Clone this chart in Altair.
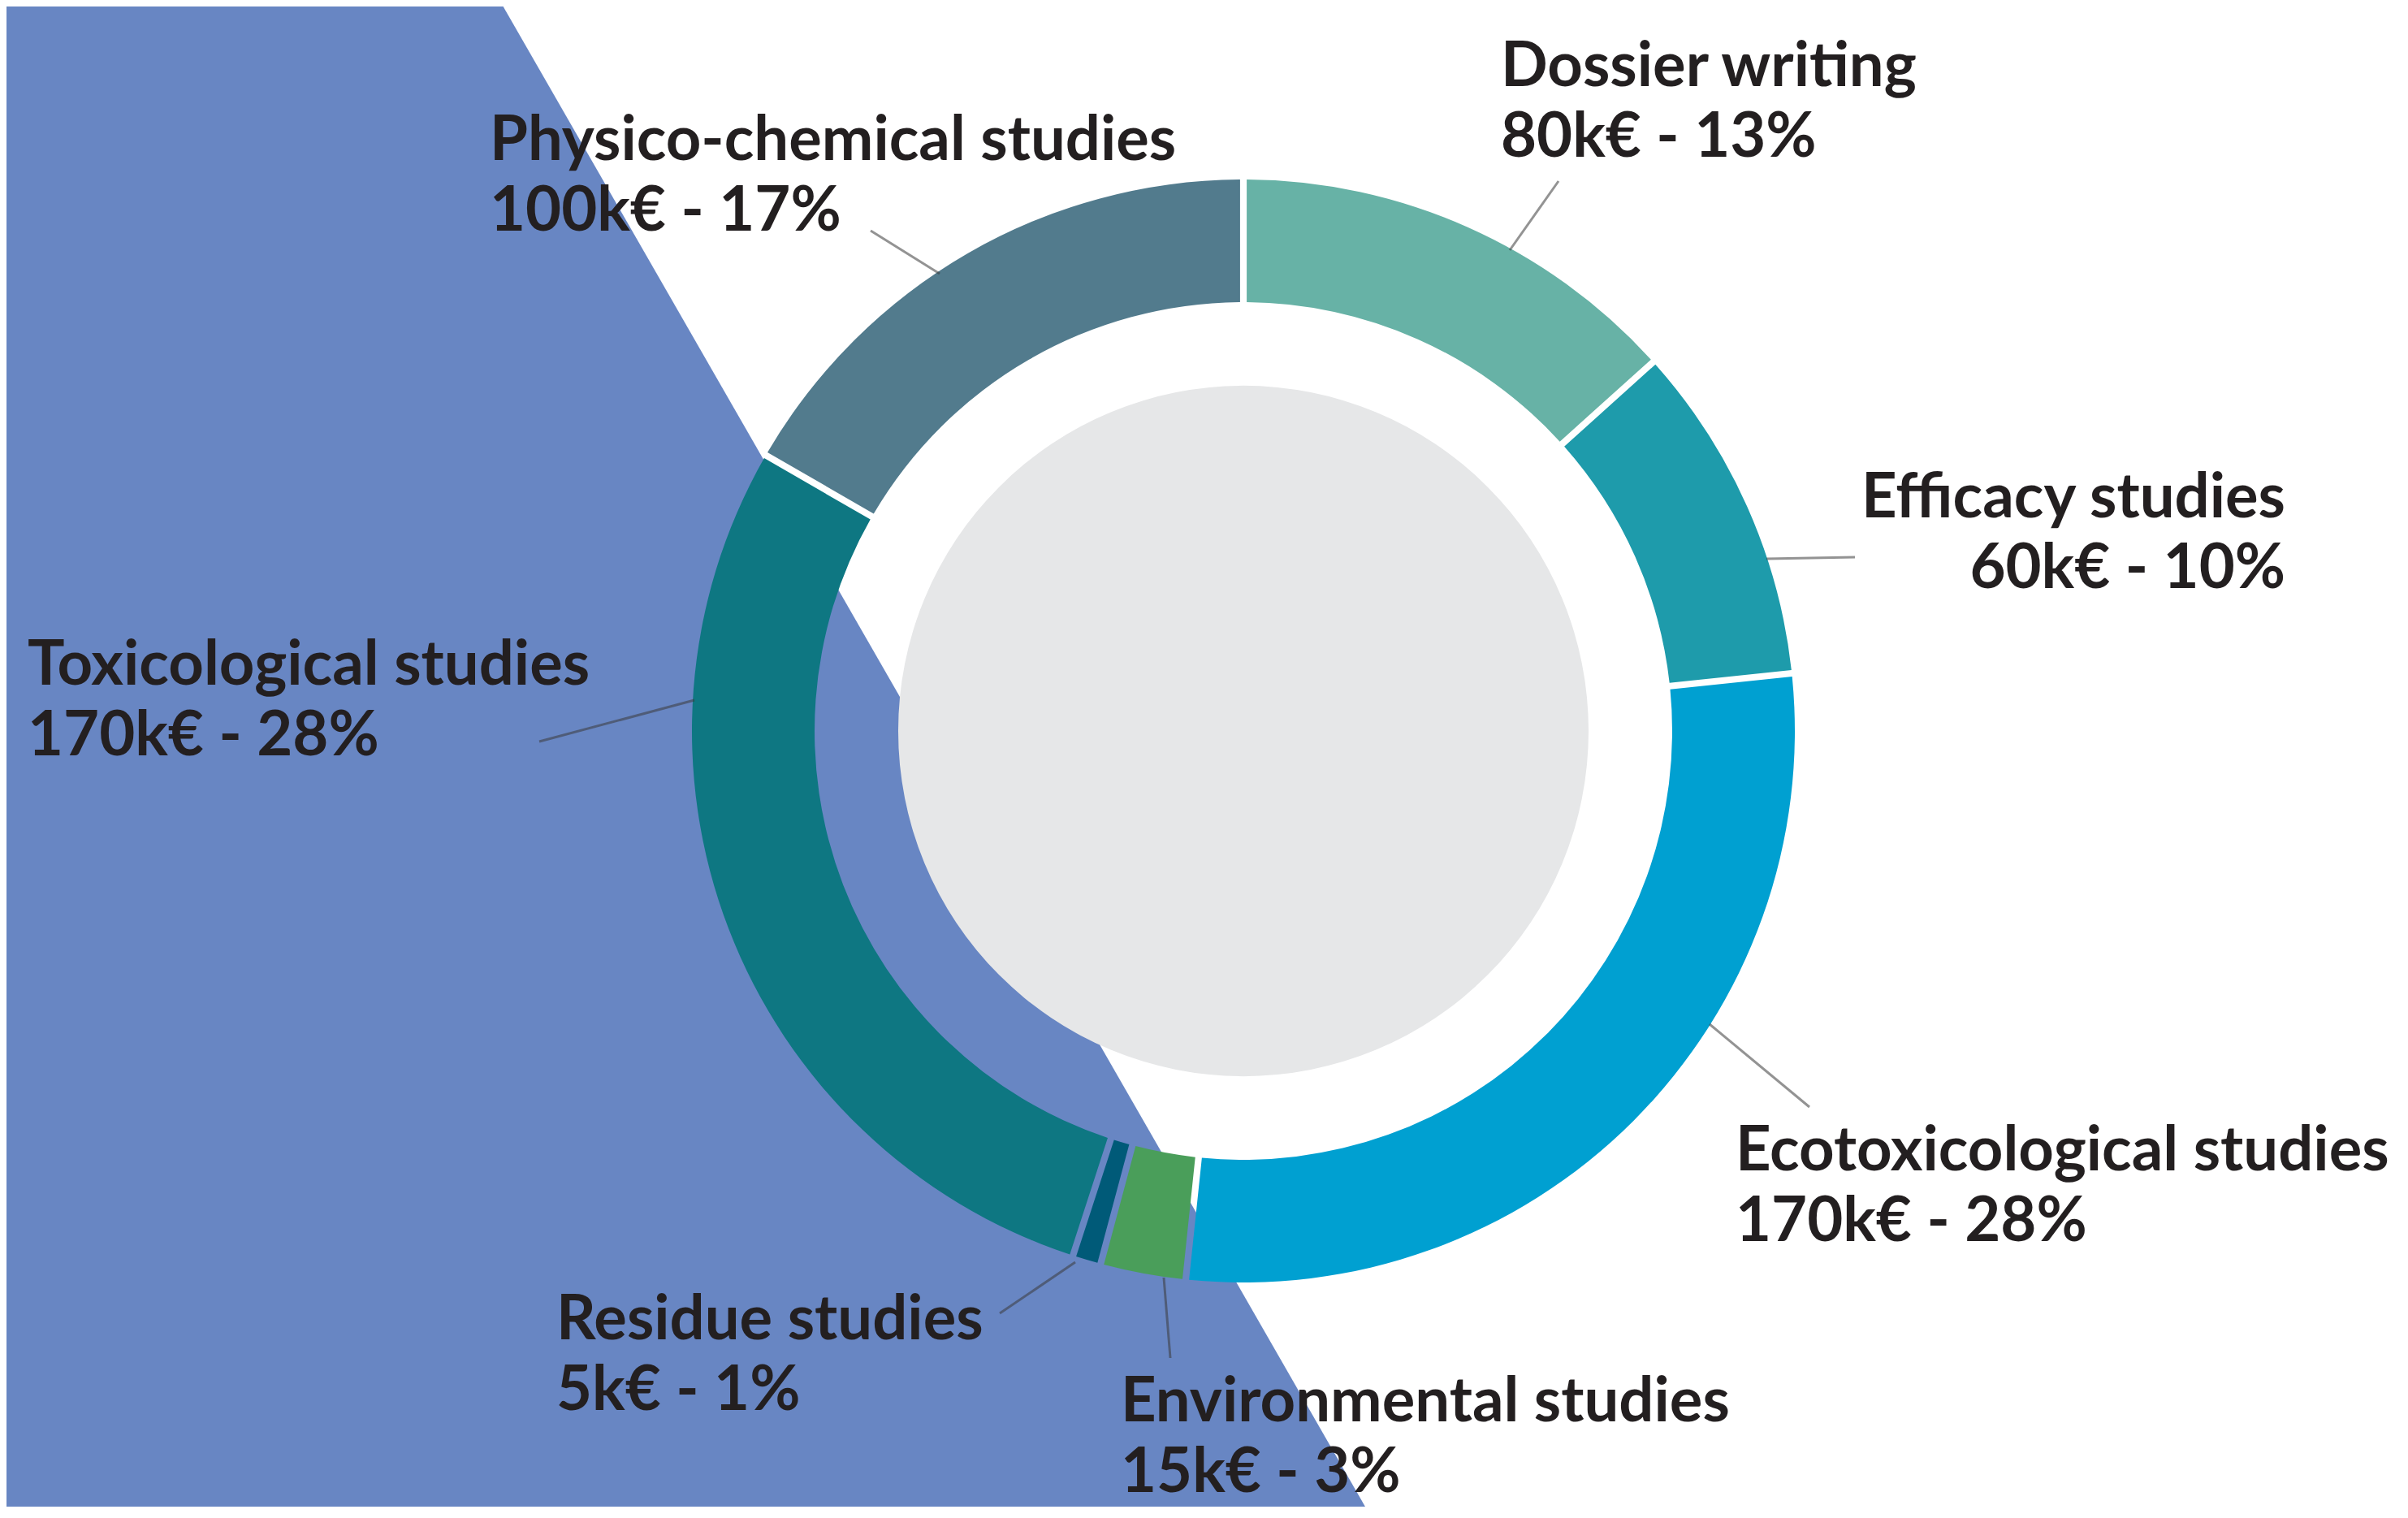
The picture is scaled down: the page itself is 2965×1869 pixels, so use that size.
import altair as alt
import pandas as pd

# ---------------- data ----------------
categories = ["Dossier writing", "Efficacy studies", "Ecotoxicological studies",
              "Environmental studies", "Residue studies", "Toxicological studies",
              "Physico-chemical studies"]
amounts_k = [80, 60, 170, 15, 5, 170, 100]
percent_labels = [13, 10, 28, 3, 1, 28, 17]

# ---------------- styles ----------------
colors = ["#67b2a6", "#1e9bab", "#00a0d1", "#4a9e5a", "#005a78", "#0e7782", "#527b8d"]
BG_BLUE = "#6886c3"
CORE_GRAY = "#e6e7e8"
TEXT_COLOR = "#231f20"

# ---------------- layout (page pixels) ----------------
W, H = 2949, 1847
X0, Y0 = 8, 8
CX, CY = 1531, 900
R_OUT, R_IN, R_CORE = 679, 528, 425

label_x = [1848, 2814, 2137, 1380, 685, 34, 603]
label_y1 = [106, 637, 1441, 1750, 1649, 843, 197]
label_align = ["left", "right", "left", "left", "left", "left", "left"]
LINE_GAP = 87

leader_x1 = [1859, 2175, 2105, 1433, 1324, 855, 1157]
leader_y1 = [308, 688, 1261, 1573, 1554, 862, 337]
leader_x2 = [1919, 2284, 2228, 1441, 1231, 664, 1072]
leader_y2 = [223, 686, 1363, 1672, 1617, 913, 284]

bg_y = [0, 1869]
bg_x = [615, 1689]

# ---------------- tables ----------------
xs = alt.Scale(domain=[X0, X0 + W], nice=False, zero=False)
ys = alt.Scale(domain=[Y0, Y0 + H], nice=False, zero=False, reverse=True)

bg_df = pd.DataFrame({"y": bg_y, "x": bg_x, "x0": [0, 0]})
core_df = pd.DataFrame({"cx": [CX], "cy": [CY]})
pie_df = pd.DataFrame({
    "cat": categories, "value": amounts_k, "idx": list(range(len(categories))),
    "cx": [CX] * len(categories), "cy": [CY] * len(categories)})
lead_df = pd.DataFrame({"x": leader_x1, "y": leader_y1, "x2": leader_x2, "y2": leader_y2})

rows = []
for c, a, p, lx, ly, al in zip(categories, amounts_k, percent_labels, label_x, label_y1, label_align):
    rows.append({"t": c, "x": lx, "y": ly, "al": al})
    rows.append({"t": f"{a}k€ - {p}%", "x": lx, "y": ly + LINE_GAP, "al": al})
text_df = pd.DataFrame(rows)

X = lambda f: alt.X(f, type="quantitative", scale=xs, axis=None)
Y = lambda f: alt.Y(f, type="quantitative", scale=ys, axis=None)

background = alt.Chart(bg_df).mark_area(orient="horizontal", color=BG_BLUE, clip=True).encode(
    y=Y("y"), x=X("x"), x2=alt.X2("x0"))

core = alt.Chart(core_df).mark_circle(
    size=(2 * R_CORE) ** 2, color=CORE_GRAY, opacity=1, strokeWidth=0).encode(
    x=X("cx"), y=Y("cy"))

donut = alt.Chart(pie_df).mark_arc(
    outerRadius=R_OUT, innerRadius=R_IN, padAngle=0.0095).encode(
    theta=alt.Theta("value:Q", stack=True),
    order=alt.Order("idx:Q"),
    color=alt.Color("cat:N", scale=alt.Scale(domain=categories, range=colors), legend=None),
    x=X("cx"), y=Y("cy"))

leaders = alt.Chart(lead_df).mark_rule(color="#3a3a3a", opacity=0.55, strokeWidth=3).encode(
    x=X("x"), y=Y("y"), x2=alt.X2("x2"), y2=alt.Y2("y2"))

def text_layer(align):
    return alt.Chart(text_df).transform_filter(alt.datum.al == align).mark_text(
        font="Lato", fontSize=76, fontWeight="bold", color=TEXT_COLOR,
        align=align, baseline="alphabetic").encode(
        x=X("x"), y=Y("y"), text="t:N")

chart = alt.layer(background, core, donut, leaders, text_layer("left"), text_layer("right")).properties(
    width=W, height=H, padding=0, autosize=alt.AutoSizeParams(type="none")
).configure_view(stroke=None)

chart.save("out.html", embed_options={"renderer": "svg", "actions": False})
